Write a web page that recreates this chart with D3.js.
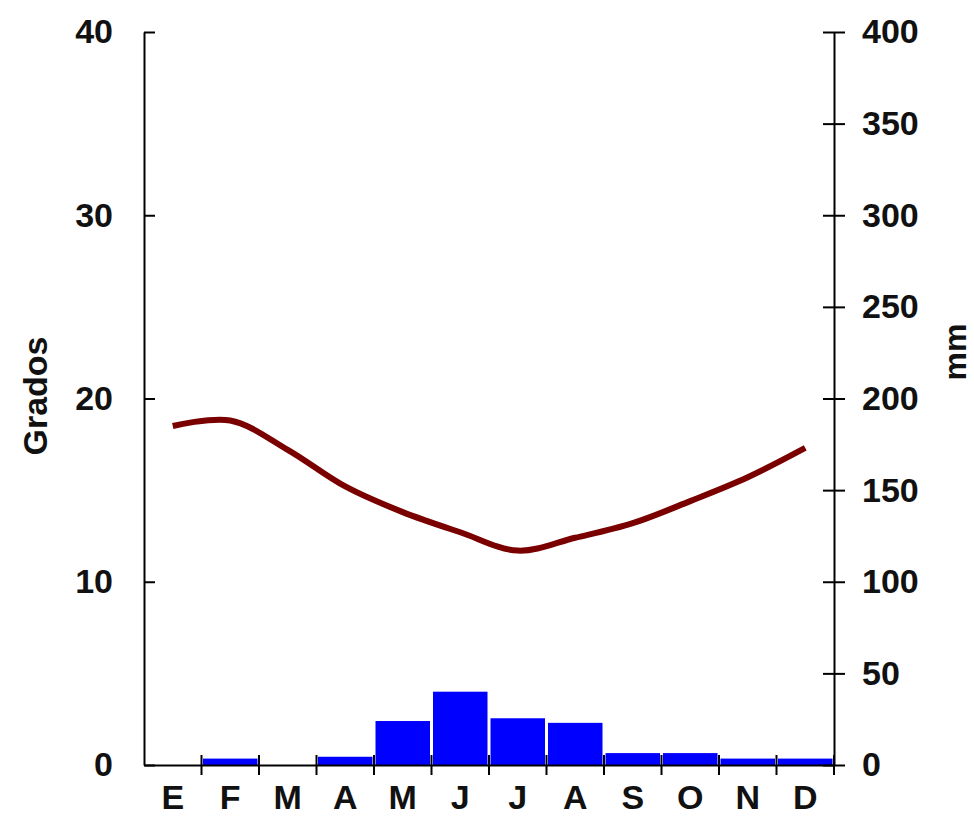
<!DOCTYPE html>
<html lang="es">
<head>
<meta charset="UTF-8" />
<title>Climograma</title>
<script src="https://d3js.org/d3.v7.min.js"></script>
<style>
  body { margin: 0; background: #fff; }
  svg text { font-family: "Liberation Sans", Arial, sans-serif; font-weight: bold; fill: #111; }
</style>
</head>
<body>
<div id="chart"></div>
<script>
// monthly climate data
const months = ["E", "F", "M", "A", "M", "J", "J", "A", "S", "O", "N", "D"];
const temperature = [18.5, 18.8, 17.2, 15.2, 13.8, 12.7, 11.7, 12.4, 13.2, 14.4, 15.7, 17.3];
const precipitation = [0, 3.5, 0, 4.5, 24, 40, 25.5, 23, 6.5, 6.5, 3.5, 3.5];
const tempTicks = [0, 10, 20, 30, 40];
const precTicks = [0, 50, 100, 150, 200, 250, 300, 350, 400];

const width = 974, height = 832;
const plotLeft = 144, plotRight = 834, plotTop = 32, plotBottom = 765;

const svg = d3.select("#chart").append("svg")
  .attr("width", width)
  .attr("height", height);

const x = d3.scaleBand().domain(d3.range(months.length)).range([plotLeft, plotRight]).padding(0);
const yT = d3.scaleLinear().domain([0, 40]).range([plotBottom, plotTop]);
const yP = d3.scaleLinear().domain([0, 400]).range([plotBottom, plotTop]);

// bars (precipitation, right axis)
svg.append("g")
  .selectAll("rect")
  .data(precipitation)
  .join("rect")
  .attr("x", (d, i) => x(i) + 1.5)
  .attr("width", x.bandwidth() - 3)
  .attr("y", d => yP(d))
  .attr("height", d => yP(0) - yP(d))
  .attr("fill", "#0000ff");

// temperature line
const line = d3.line()
  .x((d, i) => x(i) + x.bandwidth() / 2)
  .y(d => yT(d))
  .curve(d3.curveCatmullRom);

svg.append("path")
  .datum(temperature)
  .attr("fill", "none")
  .attr("stroke", "#7a0000")
  .attr("stroke-width", 6)
  .attr("stroke-linejoin", "round")
  .attr("d", line);

// left axis
const axL = svg.append("g")
  .attr("transform", `translate(${plotLeft},0)`)
  .call(d3.axisLeft(yT).tickValues(tempTicks).tickSizeInner(11).tickSizeOuter(0).tickPadding(20));
axL.selectAll(".tick line").attr("x2", 11);

// right axis
const axR = svg.append("g")
  .attr("transform", `translate(${plotRight},0)`)
  .call(d3.axisRight(yP).tickValues(precTicks).tickSizeInner(11).tickSizeOuter(0).tickPadding(17));
axR.selectAll(".tick line").attr("x1", -11);

// bottom axis, ticks on month boundaries
const axB = svg.append("g")
  .attr("transform", `translate(0,${plotBottom})`)
  .call(d3.axisBottom(x).tickFormat(i => months[i]).tickSize(0).tickPadding(34).tickSizeOuter(0));
axB.selectAll(".tick line").remove();
axB.selectAll(".tick text").attr("dy", "0.3em");
axB.append("g")
  .selectAll("line")
  .data(d3.range(1, months.length + 1))
  .join("line")
  .attr("x1", i => x.step() * i + plotLeft)
  .attr("x2", i => x.step() * i + plotLeft)
  .attr("y1", -10)
  .attr("y2", 10)
  .attr("stroke", "#000")
  .attr("stroke-width", 2);

svg.selectAll(".domain").attr("stroke", "#000").attr("stroke-width", 2);
svg.selectAll(".tick line").attr("stroke", "#000").attr("stroke-width", 2);
svg.selectAll(".tick text").attr("font-size", 34).attr("fill", "#111");

// axis titles
svg.append("text")
  .attr("transform", "translate(47,396) rotate(-90)")
  .attr("text-anchor", "middle")
  .attr("font-size", 34)
  .text("Grados");

svg.append("text")
  .attr("transform", "translate(966,352) rotate(-90)")
  .attr("text-anchor", "middle")
  .attr("font-size", 32)
  .text("mm");
</script>
</body>
</html>
